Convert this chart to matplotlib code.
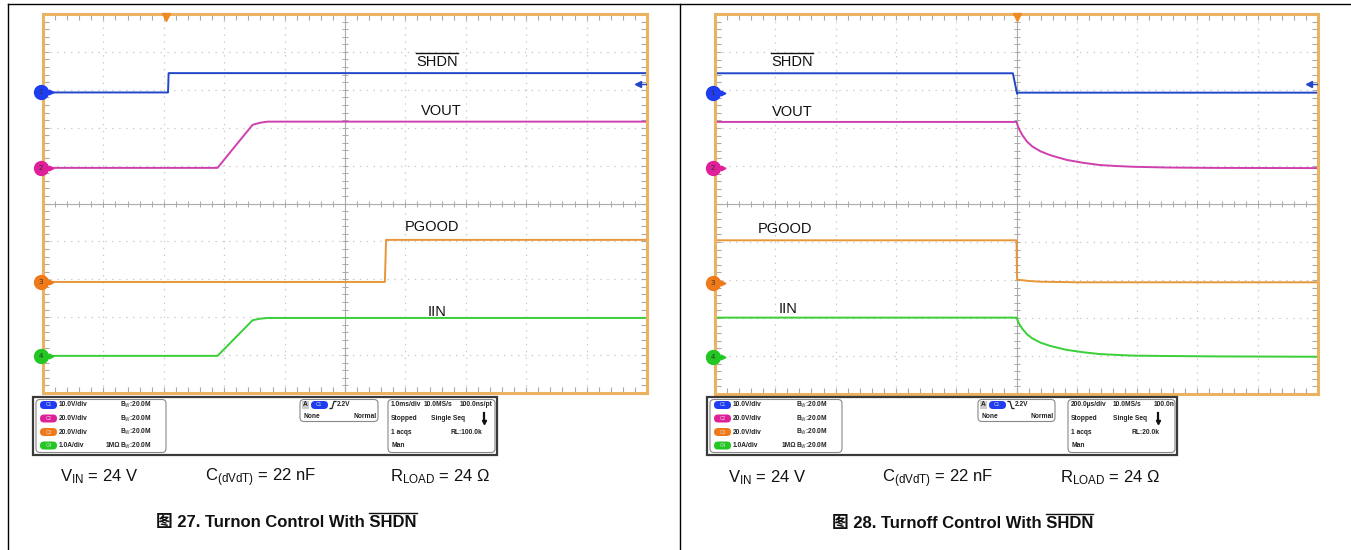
import numpy as np
import matplotlib
matplotlib.use('Agg')
import matplotlib.pyplot as plt
import matplotlib.transforms as mtransforms
from matplotlib import font_manager
from matplotlib.patches import FancyBboxPatch, Rectangle

W, H = 1351, 550

# ── turn-on capture, 1.0 ms/div (time in ms, trigger at 0) ───────────────────
on_t_shdn = [-2.04, 0.03, 0.04, 7.96]
on_shdn = [0.0, 0.0, 5.1, 5.1]                       # V
on_t_vout = [-2.04, 0.85, 1.14, 1.43, 1.55, 1.68, 7.96]
on_vout = [0.0, 0.0, 11.4, 22.7, 23.8, 24.4, 24.4]   # V
on_t_pgood = [-2.04, 3.62, 3.64, 7.96]
on_pgood = [0.0, 0.0, 22.2, 22.2]                    # V
on_t_iin = [-2.04, 0.85, 1.14, 1.43, 1.55, 1.68, 7.96]
on_iin = [0.0, 0.0, 0.47, 0.94, 0.98, 1.0, 1.0]      # A

# ── turn-off capture, 200 us/div (time in us, trigger at 0) ──────────────────
off_t_shdn = [-1000, -12, 2, 5, 1000]
off_shdn = [5.1, 5.1, -0.3, 0.0, 0.0]
off_t_decay = [-1000, 0, 5, 10, 20, 35, 53, 80, 110, 140, 167, 220, 277, 330, 386, 500, 650, 1000]
off_vout = [24.4, 24.4, 22.0, 20.2, 17.3, 14.0, 11.4, 8.9, 7.0, 5.6, 4.4, 2.9, 1.7, 1.2, 0.8, 0.4, 0.2, 0.1]
off_iin = [1.03, 1.03, 0.93, 0.85, 0.73, 0.59, 0.48, 0.37, 0.29, 0.23, 0.18, 0.12, 0.07, 0.05, 0.03, 0.02, 0.01, 0.0]
off_t_pgood = [-1000, 0, 2, 40, 80, 200, 1000]
off_pgood = [22.3, 22.3, 1.6, 0.9, 0.5, 0.2, 0.2]

# channel settings: units per div, ground offset (div from centre)
ch_scale = [10.0, 20.0, 20.0, 1.0]
ch_offset = [2.93, 0.94, -2.07, -4.02]
ch_vdiv = ['10.0V/div', '20.0V/div', '20.0V/div', '1.0A/div']
trig_level = 2.2

trace_colors = ['#2146c8', '#cf3fae', '#e8963a', '#38cf38']
dot_colors = ['#1e3cf0', '#e0209a', '#f07a1a', '#22c722']
FRAME = '#ebb262'

names = {f.name for f in font_manager.fontManager.ttflist}
if 'Liberation Sans Narrow' in names:
    NARROW, BIG, SMALL = 'Liberation Sans Narrow', 14.5, 5.6
else:
    NARROW, BIG, SMALL = 'Liberation Sans', 12, 4.8
plt.rcParams['mathtext.fontset'] = 'custom'
plt.rcParams['mathtext.rm'] = NARROW
plt.rcParams['mathtext.it'] = NARROW
plt.rcParams['mathtext.bf'] = NARROW + ':bold'

fig = plt.figure(figsize=(W / 100, H / 100), dpi=100)
fig.patch.set_facecolor('white')


def px_axes(x0, y0, x1, y1):
    return fig.add_axes([x0 / W, 1 - y1 / H, (x1 - x0) / W, (y1 - y0) / H])


def draw_screen(ax, tlim):
    tdiv = (tlim[1] - tlim[0]) / 10
    ax.set_xlim(*tlim)
    ax.set_ylim(-5, 5)
    ax.set_xticks(np.linspace(tlim[0], tlim[1], 11))
    ax.set_xticks(np.linspace(tlim[0], tlim[1], 51), minor=True)
    ax.set_yticks(np.arange(-5, 6))
    ax.set_yticks(np.linspace(-5, 5, 51), minor=True)
    ax.tick_params(which='both', direction='in', top=True, right=True, length=4,
                   width=0.8, color='#a8a8a8', labelbottom=False, labelleft=False)
    for s in ax.spines.values():
        s.set_color(FRAME)
        s.set_linewidth(2.2)
        s.set_zorder(5)
    for k in range(1, 10):
        if k == 5:
            continue
        ax.axvline(tlim[0] + k * tdiv, color='#cccccc', lw=0.9, ls=(0, (1.2, 4.3)), zorder=0)
        ax.axhline(-5 + k, color='#cccccc', lw=0.9, ls=(0, (1.2, 4.3)), zorder=0)
    ax.axvline(tlim[0] + 5 * tdiv, color='#ababab', lw=0.8, zorder=0)
    ax.axhline(0, color='#ababab', lw=0.8, zorder=0)
    fr = np.arange(1, 50) / 50
    ax.plot(fr, np.full_like(fr, 0.5), ls='none', marker='|', ms=5, mew=0.7,
            color='#a8a8a8', transform=ax.transAxes, zorder=0)
    ax.plot(np.full_like(fr, 0.5), fr, ls='none', marker='_', ms=5, mew=0.7,
            color='#a8a8a8', transform=ax.transAxes, zorder=0)
    # channel ground markers
    tr = mtransforms.blended_transform_factory(ax.transAxes, ax.transData)
    for i in range(4):
        ax.plot([-0.004], [ch_offset[i]], marker='o', ms=10, color=dot_colors[i],
                transform=tr, clip_on=False, zorder=6)
        ax.plot([0.013], [ch_offset[i]], marker='>', ms=3.5, color=dot_colors[i],
                transform=tr, clip_on=False, zorder=6)
        ax.plot([-0.004, 0.012], [ch_offset[i]] * 2, lw=1, color=dot_colors[i],
                transform=tr, clip_on=False, zorder=6)
        ax.text(-0.004, ch_offset[i], str(i + 1), transform=tr, ha='center', va='center',
                fontsize=5, color='#333333', zorder=7)
    # trigger level arrow (right side) and trigger position marker (top)
    lvl = ch_offset[0] + trig_level / ch_scale[0]
    ax.plot([0.985, 1.0], [lvl, lvl], color=trace_colors[0], lw=1, transform=tr, zorder=6)
    ax.plot([0.985], [lvl], marker='<', ms=4, color=trace_colors[0], transform=tr, zorder=6)
    trx = mtransforms.blended_transform_factory(ax.transData, ax.transAxes)
    ax.plot([0], [0.993], marker='v', ms=5.5, color='#f08a20', transform=trx,
            clip_on=False, zorder=7)


def plot_traces(ax, series):
    for i, (t, v) in enumerate(series):
        y = ch_offset[i] + np.array(v) / ch_scale[i]
        ax.plot(t, y, color=trace_colors[i], lw=1.4, solid_joinstyle='round', zorder=3)


def overline(text_artist, pad=2.0, frac=None):
    r = fig.canvas.get_renderer()
    bb = text_artist.get_window_extent(r)
    x0 = bb.x0
    if frac is not None:
        tmp = fig.text(0, 0, frac, fontsize=text_artist.get_fontsize(),
                       family=text_artist.get_fontfamily(), weight=text_artist.get_weight())
        w = tmp.get_window_extent(r).width
        tmp.remove()
        x0 = bb.x1 - w
    yy = H - (bb.y1 + pad)
    ov.plot([x0, bb.x1], [yy, yy], color='#111111', lw=1.0)


# ── screens ──────────────────────────────────────────────────────────────────
ax1 = px_axes(43, 14, 647, 393)
draw_screen(ax1, (-2.04, 7.96))
plot_traces(ax1, [(on_t_shdn, on_shdn), (on_t_vout, on_vout),
                  (on_t_pgood, on_pgood), (on_t_iin, on_iin)])

ax2 = px_axes(715, 14, 1318, 394)
draw_screen(ax2, (-1000, 1000))
plot_traces(ax2, [(off_t_shdn, off_shdn), (off_t_decay, off_vout),
                  (off_t_pgood, off_pgood), (off_t_decay, off_iin)])

ov = fig.add_axes([0, 0, 1, 1])
ov.set_xlim(0, W)
ov.set_ylim(H, 0)
ov.axis('off')

lab_kw = dict(ha='center', va='center', fontsize=10.5, family='Liberation Sans', color='#111111')
s1 = ax1.text(4.48, 3.73, 'SHDN', **lab_kw)
ax1.text(4.55, 2.43, 'VOUT', **lab_kw)
ax1.text(4.40, -0.62, 'PGOOD', **lab_kw)
ax1.text(4.48, -2.86, 'IIN', **lab_kw)
s2 = ax2.text(-745, 3.73, 'SHDN', **lab_kw)
ax2.text(-745, 2.41, 'VOUT', **lab_kw)
ax2.text(-769, -0.65, 'PGOOD', **lab_kw)
ax2.text(-758, -2.76, 'IIN', **lab_kw)

# page frame
ov.plot([8, W], [4, 4], color='black', lw=1)
ov.plot([8, 8], [4, H], color='black', lw=1)
ov.plot([680, 680], [4, H], color='black', lw=1)

# ── info panels ──────────────────────────────────────────────────────────────
info_kw = dict(fontsize=SMALL, family=NARROW, weight='bold', color='#222222', va='center')
rows = [405, 418.5, 432, 445.5]


def info_panel(x0, x1, chx1, trig, tbx0, tb, falling):
    ov.add_patch(Rectangle((x0, 397), x1 - x0, 58, fill=False, ec='#3a3a3a', lw=1.6))
    ov.add_patch(FancyBboxPatch((x0 + 3, 399.5), chx1 - x0 - 3, 53,
                                boxstyle='round,pad=0,rounding_size=4',
                                fill=False, ec='#888888', lw=0.8))
    for i, y in enumerate(rows):
        ov.add_patch(FancyBboxPatch((x0 + 7, y - 4), 17, 8, boxstyle='round,pad=0,rounding_size=4',
                                    fc=dot_colors[i], ec='none'))
        ov.text(x0 + 15.5, y, 'C%d' % (i + 1), ha='center', va='center', fontsize=3.5,
                color='#dddddd', family=NARROW)
        ov.text(x0 + 26, y, ch_vdiv[i], ha='left', **info_kw)
        ov.text(chx1 - 14, y, r'B$_{\rm W}$:20.0M', ha='right', **info_kw)
    ov.text(chx1 - 46, rows[3], '1M\u03a9', ha='right', **info_kw)
    # trigger box
    tx0, tx1 = trig
    ov.add_patch(FancyBboxPatch((tx0, 399.5), tx1 - tx0, 22, boxstyle='round,pad=0,rounding_size=4',
                                fill=False, ec='#888888', lw=0.8))
    ov.add_patch(Rectangle((tx0 + 2, 401), 7, 8, fc='#cccccc', ec='none'))
    ov.text(tx0 + 5.5, 405, 'A', ha='center', **info_kw)
    ov.add_patch(FancyBboxPatch((tx0 + 11, 401), 17, 8, boxstyle='round,pad=0,rounding_size=4',
                                fc=dot_colors[0], ec='none'))
    ov.text(tx0 + 19.5, 405, 'C1', ha='center', va='center', fontsize=3.5, color='#dddddd')
    if falling:
        ov.plot([tx0 + 30, tx0 + 32, tx0 + 34, tx0 + 36], [401.5, 401.5, 408.5, 408.5], color='#222', lw=0.9)
    else:
        ov.plot([tx0 + 30, tx0 + 32, tx0 + 34, tx0 + 36], [408.5, 408.5, 401.5, 401.5], color='#222', lw=0.9)
    ov.text(tx0 + 37, 405, '2.2V', ha='left', **info_kw)
    ov.text(tx0 + 3, 416, 'None', ha='left', **info_kw)
    ov.text(tx1 - 1, 416, 'Normal', ha='right', **info_kw)
    # timebase box
    ov.add_patch(FancyBboxPatch((tbx0, 399.5), x1 - tbx0 - 2, 53, boxstyle='round,pad=0,rounding_size=4',
                                fill=False, ec='#888888', lw=0.8))
    c1, c2, c3, c2b, arr, rl = tb['cols']
    ov.text(c1, rows[0], tb['div'], ha='left', **info_kw)
    ov.text(c2, rows[0], '10.0MS/s', ha='left', **info_kw)
    ov.text(c3, rows[0], tb['pt'], ha='right', **info_kw)
    ov.text(c1, rows[1], 'Stopped', ha='left', **info_kw)
    ov.text(c2b, rows[1], 'Single Seq', ha='left', **info_kw)
    ov.plot([arr, arr], [413, 421], color='#111', lw=1.6)
    ov.plot([arr], [422], marker='v', ms=3, color='#111')
    ov.text(c1, rows[2], '1 acqs', ha='left', **info_kw)
    ov.text(rl, rows[2], tb['rl'], ha='right', **info_kw)
    ov.text(c1, rows[3], 'Man', ha='left', **info_kw)


info_panel(33, 497, 166, (300, 378), 388,
           dict(cols=(391, 424, 493, 431, 484, 482), div='1.0ms/div', pt='100.0ns/pt', rl='RL:100.0k'),
           falling=False)
info_panel(707, 1177, 842, (978, 1055), 1068,
           dict(cols=(1071, 1113, 1175, 1113, 1158, 1160), div='200.0\u00b5s/div', pt='100.0n', rl='RL:20.0k'),
           falling=True)

# ── conditions and captions ─────────────────────────────────────────────────
cond_kw = dict(fontsize=BIG, family=NARROW, color='#111111', va='baseline', ha='left')
conds = [r'V$_{\rm IN}$ = 24 V', r'C$_{\rm (dVdT)}$ = 22 nF', r'R$_{\rm LOAD}$ = 24 $\Omega$']
for xs, yb in (((60, 205, 390), 481), ((728, 882, 1060), 482)):
    for x, s in zip(xs, conds):
        ov.text(x, yb, s, **cond_kw)

cap_kw = dict(fontsize=BIG, family=[NARROW, 'Noto Sans CJK SC'], weight='bold',
              color='#111111', va='baseline', ha='left')
c1 = ov.text(156, 527, '\u56fe 27. Turnon Control With SHDN', **cap_kw)
c2 = ov.text(832, 528, '\u56fe 28. Turnoff Control With SHDN', **cap_kw)

overline(s1, pad=2.5)
overline(s2, pad=2.5)
overline(c1, pad=2.0, frac='SHDN')
overline(c2, pad=2.0, frac='SHDN')

fig.savefig('out.png', dpi=100)
